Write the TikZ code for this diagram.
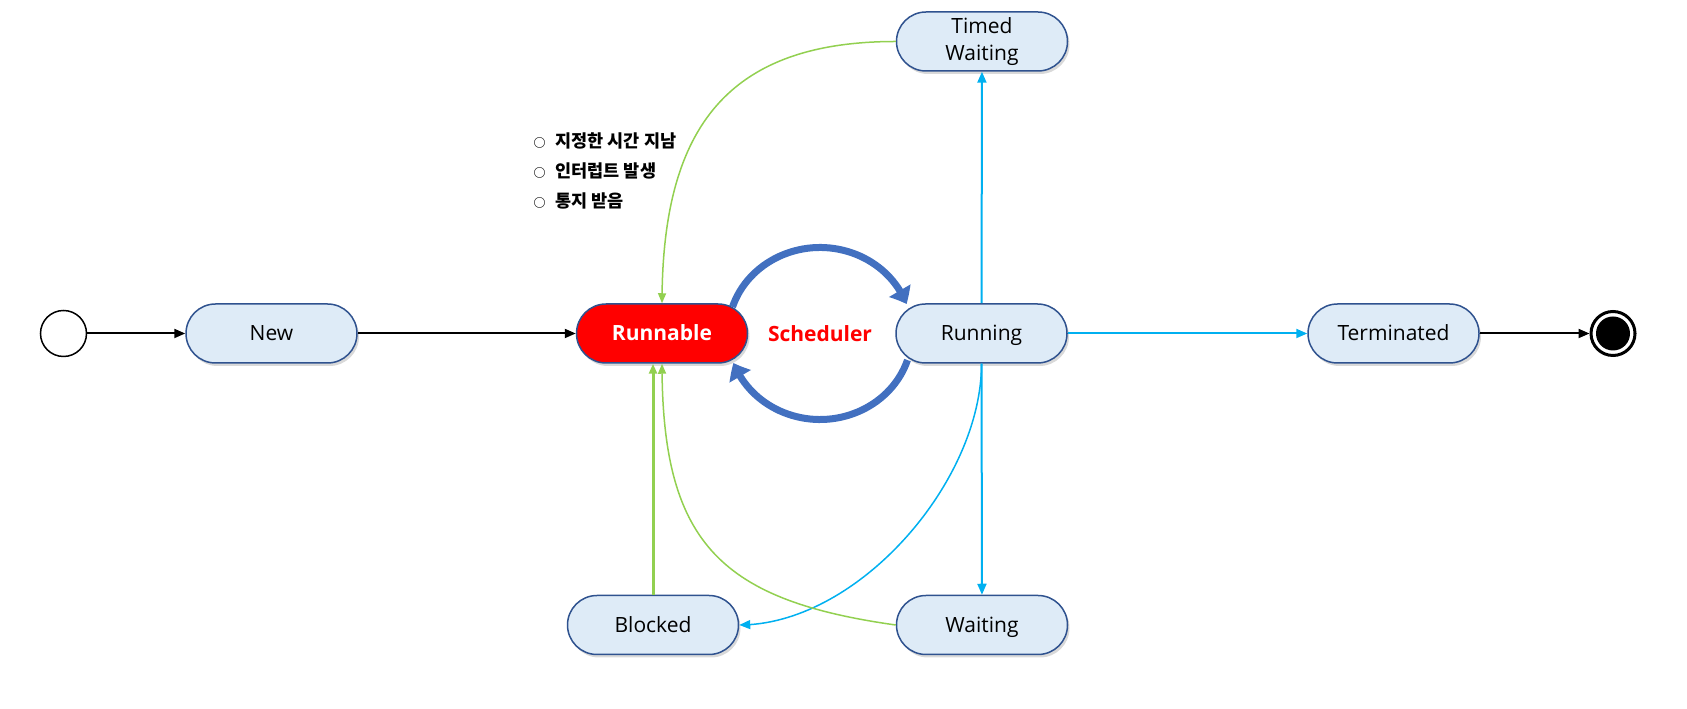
\documentclass[tikz,border=0pt]{standalone}
\usepackage{fontspec}
\setmainfont{Open Sans}
\newfontfamily\kofont{Noto Sans CJK KR}
\usepackage{xcolor}
\usetikzlibrary{arrows.meta,bending,shadows,backgrounds}

\definecolor{statefill}{HTML}{DEEBF7}
\definecolor{stateline}{HTML}{2F528F}
\definecolor{runblue}{HTML}{00B0F0}
\definecolor{wakegreen}{HTML}{92D050}
\definecolor{schedblue}{HTML}{4270C0}

\begin{document}
\begin{tikzpicture}[x=1pt, y=1pt,
  state/.style={draw=stateline, line width=1.5pt, fill=statefill,
    rounded corners=29.5pt, minimum width=171pt, minimum height=59pt,
    inner sep=0pt, align=center, font=\fontsize{21}{27}\selectfont,
    drop shadow={shadow xshift=2pt, shadow yshift=-3pt, opacity=0.3}},
  oneline/.style={text height=17.5pt, text depth=2.5pt},
  flow/.style={draw=black, line width=2pt, -{Triangle[length=11pt,width=9pt]}},
  runflow/.style={draw=runblue, line width=2pt, -{Triangle[length=11pt,width=9pt]}},
  wakeflow/.style={draw=wakegreen, line width=1.5pt, -{Triangle[length=10pt,width=8pt]}},
  schedarrow/.style={draw=schedblue, line width=7pt, -{Triangle[length=15pt,width=24pt,bend]}}]
\useasboundingbox (0,0) rectangle (1687,709);

\node [circle, draw=black, line width=1.5pt, fill=white, minimum size=46pt, inner sep=0pt] (init) at (63.5,375.5) {};
\node [state, oneline] (new) at (271.5,375.5) {New};
\node [state, oneline, fill=red, font=\fontsize{21}{27}\selectfont\bfseries, text=white] (runnable) at (662,375.5) {Runnable};
\node [state, oneline] (running) at (981.5,375.5) {Running};
\node [state, oneline] (terminated) at (1393.5,375.5) {Terminated};
\node [state] (timed) at (982,667.5) {Timed\\Waiting};
\node [state, oneline] (blocked) at (653,84) {Blocked};
\node [state, oneline] (waiting) at (982,84) {Waiting};
\node [circle, draw=black, line width=3pt, fill=white, minimum size=44pt, inner sep=0pt] (final) at (1613,375.5) {};
\fill [black] (final.center) circle (17);

\node [text=red, font=\fontsize{21}{27}\selectfont\bfseries] (sched) at (820,375.5) {Scheduler};
\begin{pgfonlayer}{background}
\draw [schedarrow] (sched.center) ++(162:92 and 86) arc [start angle=162, end angle=20, x radius=92, y radius=86];
\draw [schedarrow] (sched.center) ++(-18:92 and 86) arc [start angle=-18, end angle=-160, x radius=92, y radius=86];
\end{pgfonlayer}

\node [anchor=west, align=left, font=\kofont\bfseries\fontsize{17.5}{30}\selectfont] (notes) at (530,538)
  {{\fontsize{12}{12}\selectfont ○}\hspace{10pt}지정한 시간 지남\\
   {\fontsize{12}{12}\selectfont ○}\hspace{10pt}인터럽트 발생\\
   {\fontsize{12}{12}\selectfont ○}\hspace{10pt}통지 받음};

\draw [flow] (init) -- (new);
\draw [flow] (new) -- (runnable);
\draw [runflow] (running) -- (terminated);
\draw [flow] (terminated) -- (final);
\draw [runflow] (running) -- (timed);
\draw [runflow] (running) -- (waiting);
\draw [runflow, line width=1.5pt] (running.south) to [out=-90, in=0, looseness=0.85] (blocked.east);
\draw [wakeflow, line width=3pt] (blocked.north) -- (blocked.north |- runnable.south);
\draw [wakeflow] (waiting.west) to [out=172, in=-90, looseness=1.3] (runnable.south);
\draw [wakeflow] (timed.west) to [out=180, in=90, looseness=1.25] (runnable.north);
\end{tikzpicture}
\end{document}
